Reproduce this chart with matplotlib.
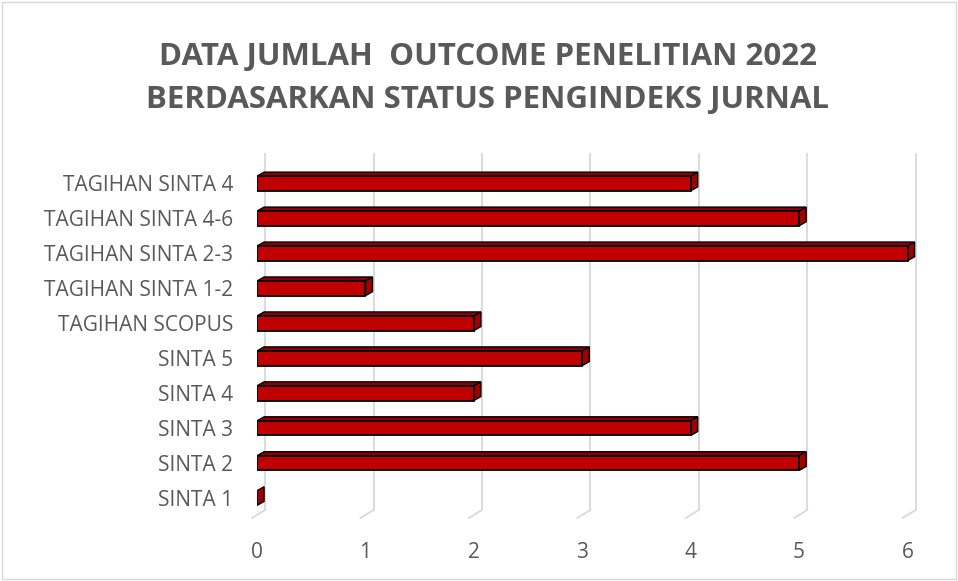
import matplotlib.pyplot as plt
from matplotlib.patches import Rectangle, Polygon

# Data
categories = ["SINTA 1", "SINTA 2", "SINTA 3", "SINTA 4", "SINTA 5",
              "TAGIHAN SCOPUS", "TAGIHAN SINTA 1-2", "TAGIHAN SINTA 2-3",
              "TAGIHAN SINTA 4-6", "TAGIHAN SINTA 4"]
values = [0, 5, 4, 2, 3, 2, 1, 6, 5, 4]
xticks = [0, 1, 2, 3, 4, 5, 6]
title = "DATA JUMLAH  OUTCOME PENELITIAN 2022\nBERDASARKAN STATUS PENGINDEKS JURNAL"

plt.rcParams['font.family'] = ['Open Sans', 'DejaVu Sans']
text_col = "#595959"
front_col = "#c00000"
top_col = "#8e0000"
side_col = "#a00000"

fig = plt.figure(figsize=(9.58, 5.81), dpi=100)
fig.patches.append(Rectangle((0.002, 0.003), 0.996, 0.994, transform=fig.transFigure,
                             fill=False, edgecolor="#d9d9d9", lw=1))
ax = fig.add_axes([0.2683, 0.1127, 0.696, 0.6226])
ax.set_xlim(0, 6.15)
ax.set_ylim(-0.5, 9.85)

# back-wall gridlines with floor slant
for v in xticks:
    ax.plot([v + 0.075, v + 0.075], [-0.34, 9.85], color="#d9d9d9", lw=1.3, zorder=0, clip_on=False)
    ax.plot([v + 0.075, v - 0.045], [-0.34, -0.57], color="#d9d9d9", lw=1.3, zorder=0, clip_on=False)

# 3D-looking bars
h = 0.42
dx = 0.065
dy = 0.115
for i, v in enumerate(values):
    y0, y1 = i - h / 2, i + h / 2
    if v > 0:
        ax.add_patch(Polygon([(0, y1), (v, y1), (v + dx, y1 + dy), (dx, y1 + dy)],
                             closed=True, facecolor=top_col, edgecolor="black", lw=1, zorder=3))
        ax.add_patch(Rectangle((0, y0), v, h, facecolor=front_col, edgecolor="black", lw=1.3, zorder=4))
    ax.add_patch(Polygon([(v, y0), (v + dx, y0 + dy), (v + dx, y1 + dy), (v, y1)],
                         closed=True, facecolor=side_col, edgecolor="black", lw=1, zorder=3))

ax.set_yticks(range(len(categories)))
ax.set_yticklabels(categories)
ax.set_xticks(xticks)
ax.tick_params(axis='y', length=0, pad=17, labelsize=15, labelcolor=text_col)
ax.tick_params(axis='x', length=0, pad=19, labelsize=15, labelcolor=text_col)
for s in ax.spines.values():
    s.set_visible(False)

fig.text(0.509, 0.865, title, ha="center", va="center", fontsize=22.5, fontweight="bold",
         color=text_col, linespacing=1.58)

fig.savefig("out.png", dpi=100)
